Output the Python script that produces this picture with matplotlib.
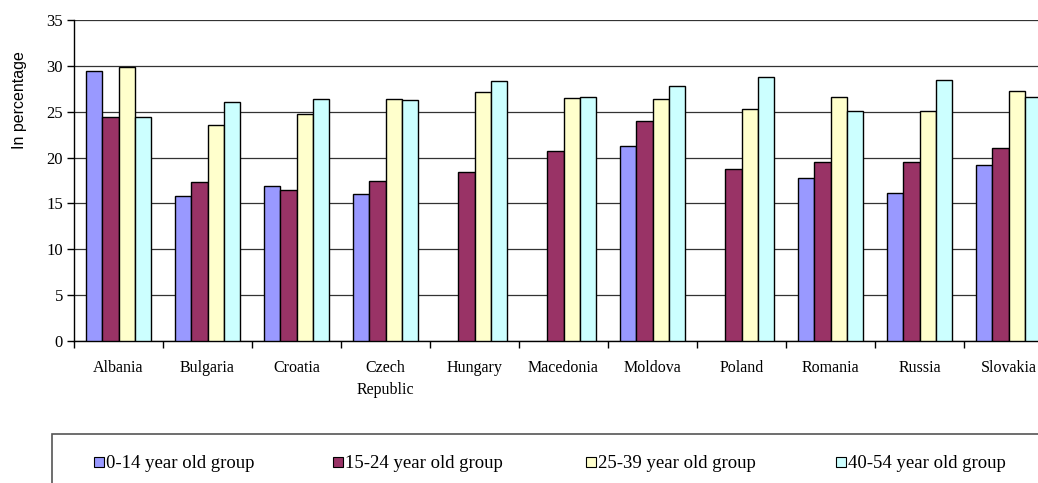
"""Unemployment share by age group across Central and Eastern European countries."""

import matplotlib

matplotlib.use("Agg")
import matplotlib.pyplot as plt
import numpy as np
from matplotlib.patches import Rectangle

countries = [
    "Albania", "Bulgaria", "Croatia", "Czech\nRepublic", "Hungary", "Macedonia",
    "Moldova", "Poland", "Romania", "Russia", "Slovakia",
]
group_labels = [
    "0-14 year old group",
    "15-24 year old group",
    "25-39 year old group",
    "40-54 year old group",
]
# NaN marks a country with no figure for that age group
age_0_14 = [29.4, 15.8, 16.9, 16.0, np.nan, np.nan, 21.3, np.nan, 17.8, 16.1, 19.2]
age_15_24 = [24.4, 17.3, 16.5, 17.5, 18.4, 20.7, 24.0, 18.8, 19.5, 19.5, 21.0]
age_25_39 = [29.9, 23.6, 24.75, 26.4, 27.2, 26.5, 26.4, 25.3, 26.6, 25.1, 27.3]
age_40_54 = [24.4, 26.1, 26.4, 26.3, 28.3, 26.6, 27.8, 28.8, 25.1, 28.5, 26.6]

series = [age_0_14, age_15_24, age_25_39, age_40_54]
colors = ["#9999FF", "#993366", "#FFFFCC", "#CCFFFF"]

SERIF = "Liberation Serif"
SANS = "Liberation Sans"

W, H = 1038, 483
fig = plt.figure(figsize=(W / 100, H / 100), dpi=100)

# the plot area runs slightly past the right edge of the canvas
left, right, bottom, top = 74, 1053, 341, 20
ax = fig.add_axes([left / W, 1 - bottom / H, (right - left) / W, (bottom - top) / H])

x = np.arange(len(countries))
bar_w = 0.18
offsets = (np.arange(len(series)) - 1.5) * bar_w
for vals, off, col in zip(series, offsets, colors):
    ax.bar(x + off, vals, width=bar_w, color=col, edgecolor="black",
           linewidth=1.0, zorder=3)

ax.set_xlim(-0.5, len(countries) - 0.5)
ax.set_ylim(0, 35)
ax.set_yticks(range(0, 36, 5))
ax.yaxis.grid(True, color="#333333", linewidth=0.9, zorder=0)
ax.set_axisbelow(True)

# category labels sit between boundary ticks
ax.set_xticks(np.arange(len(countries) + 1) - 0.5)
ax.set_xticklabels([])
ax.set_xticks(x, minor=True)
ax.set_xticklabels(countries, minor=True, fontfamily=SERIF, fontsize=11.5,
                   linespacing=1.5)
ax.tick_params(axis="x", which="minor", length=0, pad=14)
ax.tick_params(axis="x", which="major", length=5, width=1, direction="out")
ax.tick_params(axis="y", length=5, width=1, direction="out", pad=3)
for lab in ax.get_yticklabels():
    lab.set_fontfamily(SERIF)
    lab.set_fontsize(12)

for side in ("top", "right"):
    ax.spines[side].set_visible(False)
for side in ("left", "bottom"):
    ax.spines[side].set_linewidth(1.0)
    ax.spines[side].set_color("black")

fig.text(20 / W, 1 - 100 / H, "In percentage", rotation=90, fontfamily=SANS,
         fontsize=11.5, ha="center", va="center")

# legend frame extends beyond the canvas on the right and bottom
fig.add_artist(Rectangle((52 / W, -0.1), 1.2, 1 - 434 / H + 0.1,
                         transform=fig.transFigure, facecolor="white",
                         edgecolor="#555555", linewidth=1.2))
legend_x = [94, 333, 586, 836]
legend_y = 462
sq = 10
for lx, col, lab in zip(legend_x, colors, group_labels):
    fig.add_artist(Rectangle((lx / W, 1 - (legend_y + sq / 2) / H), sq / W, sq / H,
                             transform=fig.transFigure, facecolor=col,
                             edgecolor="black", linewidth=0.8))
    fig.text((lx + sq + 2) / W, 1 - (legend_y + 1) / H, lab, fontfamily=SERIF,
             fontsize=13.5, ha="left", va="center")

fig.savefig("out.png", dpi=100)
